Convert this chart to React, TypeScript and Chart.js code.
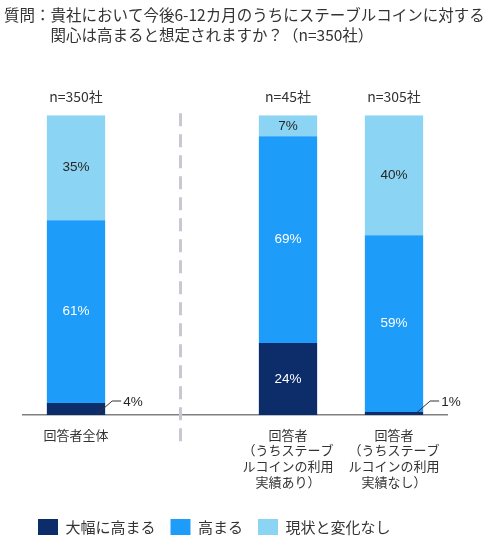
import { useEffect, useRef } from "react";
import { Chart, ChartConfiguration, Plugin, registerables } from "chart.js";

Chart.register(...registerables);

const categories = [
  ["回答者全体"],
  [""],
  ["回答者", "（うちステーブ", "ルコインの利用", "実績あり）"],
  ["回答者", "（うちステーブ", "ルコインの利用", "実績なし）"],
];
const sampleSizes = ["n=350社", "", "n=45社", "n=305社"];
const seriesNames = ["大幅に高まる", "高まる", "現状と変化なし"];
const greatlyIncrease = [4, null, 24, 1];
const increase = [61, null, 69, 59];
const noChange = [35, null, 7, 40];
const titleLines = [
  "質問：貴社において今後6-12カ月のうちにステーブルコインに対する",
  "　　　関心は高まると想定されますか？（n=350社）",
];

const colors = ["#0c2d69", "#1e9cfa", "#8cd4f3"];
const labelColors = ["#ffffff", "#ffffff", "#262626"];
const jpFont = "'Noto Sans CJK JP', 'Noto Sans', sans-serif";
const numFont = "'Liberation Sans', Arial, sans-serif";

// percentages, leader lines for small values, n= labels, dashed divider
const annotations: Plugin = {
  id: "annotations",
  afterDatasetsDraw(chart) {
    const { ctx, chartArea } = chart;
    const xScale = chart.scales.x;
    ctx.save();

    // divider between total and breakdown
    const dx = Math.round(xScale.getPixelForValue(1)) - 1.5;
    ctx.strokeStyle = "#c8c8d2";
    ctx.lineWidth = 3;
    ctx.setLineDash([13, 8]);
    ctx.beginPath();
    ctx.moveTo(dx, chartArea.top - 2);
    ctx.lineTo(dx, chartArea.bottom + 28);
    ctx.stroke();
    ctx.setLineDash([]);

    ctx.font = `13.5px ${numFont}`;
    ctx.textBaseline = "middle";
    chart.data.datasets.forEach((ds, di) => {
      const meta = chart.getDatasetMeta(di);
      meta.data.forEach((bar: any, i) => {
        const v = ds.data[i] as number | null;
        if (v == null) return;
        const { x, y, base, width } = bar.getProps(["x", "y", "base", "width"], true);
        if (v >= 5) {
          ctx.fillStyle = labelColors[di];
          ctx.textAlign = "center";
          ctx.fillText(`${v}%`, x, (y + base) / 2);
        } else {
          const right = x + width / 2;
          const ly = base - 14;
          ctx.strokeStyle = "#333333";
          ctx.lineWidth = 1;
          ctx.beginPath();
          ctx.moveTo(right - 8, base - 1);
          ctx.lineTo(right + 7, ly);
          ctx.lineTo(right + 16, ly);
          ctx.stroke();
          ctx.fillStyle = "#262626";
          ctx.textAlign = "left";
          ctx.fillText(`${v}%`, right + 18, ly + 1);
        }
      });
    });

    ctx.font = `14px ${jpFont}`;
    ctx.fillStyle = "#333333";
    ctx.textAlign = "center";
    sampleSizes.forEach((s, i) => {
      if (!s) return;
      ctx.fillText(s, xScale.getPixelForValue(i), chartArea.top - 19);
    });
    ctx.restore();
  },
};

export default function App() {
  const canvasRef = useRef<HTMLCanvasElement>(null);
  const chartRef = useRef<Chart | null>(null);

  useEffect(() => {
    document.body.style.margin = "0";
    if (!canvasRef.current) return;
    if (chartRef.current) chartRef.current.destroy();
    const ctx = canvasRef.current.getContext("2d");
    if (!ctx) return;

    const values = [greatlyIncrease, increase, noChange];
    const config: ChartConfiguration = {
      type: "bar",
      data: {
        labels: categories,
        datasets: values.map((d, i) => ({
          label: seriesNames[i],
          data: d,
          backgroundColor: colors[i],
          borderWidth: 0,
          barPercentage: 0.55,
          categoryPercentage: 1,
        })),
      },
      options: {
        responsive: true,
        maintainAspectRatio: false,
        animation: false,
        layout: { padding: { left: 4, right: 0, top: 0, bottom: 0 } },
        scales: {
          x: {
            stacked: true,
            grid: { display: false, drawTicks: false },
            border: { display: true, color: "#808080", width: 1.5 },
            ticks: {
              padding: 12,
              color: "#333333",
              maxRotation: 0,
              autoSkip: false,
              font: { family: jpFont, size: 13, lineHeight: 1.2 },
            },
            afterFit: (scale: any) => {
              scale.height = 89;
            },
          },
          y: {
            stacked: true,
            min: 0,
            max: 100,
            grid: { display: false },
            border: { display: false },
            ticks: { display: false },
            afterFit: (scale: any) => {
              scale.width = 19;
            },
          },
          // empty right-hand spacer so the title can use the full width
          spacer: {
            type: "linear",
            position: "right",
            grid: { display: false },
            border: { display: false },
            ticks: { display: false },
            afterFit: (scale: any) => {
              scale.width = 54;
            },
          },
        },
        plugins: {
          title: {
            display: true,
            text: titleLines,
            align: "start",
            color: "#333333",
            font: { family: jpFont, size: 15.5, weight: "normal", lineHeight: 1.3 },
            padding: { top: 5, bottom: 70 },
          },
          legend: {
            position: "bottom",
            align: "start",
            fullSize: false,
            maxHeight: 36,
            labels: {
              boxWidth: 20,
              boxHeight: 16,
              padding: 15,
              color: "#333333",
              font: { family: jpFont, size: 15 },
            },
          },
          tooltip: { enabled: false },
        },
      },
      plugins: [annotations],
    };

    chartRef.current = new Chart(ctx, config);
    return () => {
      if (chartRef.current) {
        chartRef.current.destroy();
        chartRef.current = null;
      }
    };
  }, []);

  return (
    <div style={{ width: 501, height: 540, position: "relative" }}>
      <canvas ref={canvasRef} />
    </div>
  );
}
